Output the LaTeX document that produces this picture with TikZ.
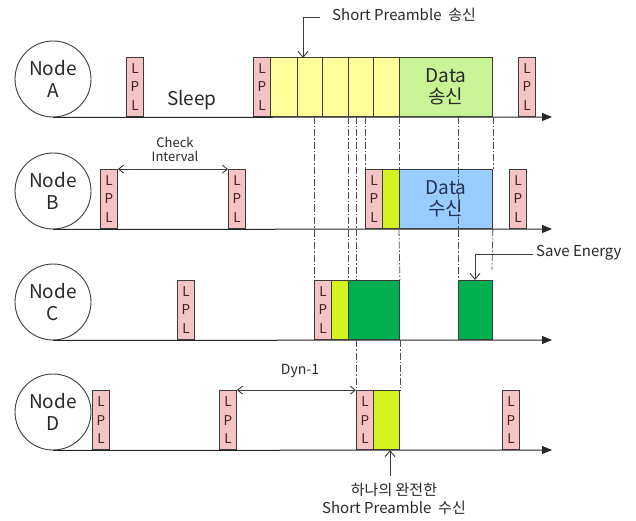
\documentclass[tikz,border=0pt]{standalone}
\usepackage{fontspec}
\setmainfont{Noto Sans CJK KR}
\usetikzlibrary{arrows.meta}
\definecolor{edge}{RGB}{60,60,60}
\definecolor{txt}{RGB}{40,40,40}
\definecolor{lplc}{RGB}{244,196,196}
\definecolor{lpltxt}{RGB}{70,30,30}
\definecolor{pre}{RGB}{255,255,153}
\definecolor{dataA}{RGB}{200,244,150}
\definecolor{dataB}{RGB}{153,204,255}
\definecolor{yg}{RGB}{212,242,30}
\definecolor{grn}{RGB}{0,176,80}
\definecolor{navy}{RGB}{35,50,85}
\definecolor{dd}{RGB}{80,80,80}
\begin{document}
\begin{tikzpicture}[x=1pt,y=-1pt,
  every node/.style={inner sep=0pt,text=txt},
  nodec/.style={circle,draw=edge,line width=0.9pt,minimum size=76pt,align=center,font=\fontsize{19}{22}\selectfont},
  lpl/.style={draw=edge,fill=lplc,line width=0.9pt,minimum width=17pt,minimum height=59pt,anchor=south west,align=center,font=\fontsize{13.5}{18.5}\selectfont,text=lpltxt},
  seg/.style n args={2}{draw=edge,fill=#2,line width=0.9pt,minimum width=#1,minimum height=59pt,anchor=south west},
  datat/.style={align=center,font=\fontsize{19}{21}\selectfont},
  axis/.style={draw=black!85,line width=1pt,-{Triangle[length=10pt,width=8pt]}},
  ddash/.style={draw=dd,line width=0.8pt,dash pattern=on 7pt off 2pt on 1.5pt off 2pt},
  callout/.style={draw=edge,line width=0.9pt,-{Straight Barb[length=6pt,width=10pt]}},
  dbl/.style={draw=edge,line width=0.9pt,{Straight Barb[length=5pt,width=8pt]}-{Straight Barb[length=5pt,width=8pt]}}]
\useasboundingbox (0,0) rectangle (636,521);

% circles
\node[nodec] (na) at (53,79) {Node\\A};
\node[nodec] (nb) at (53,191) {Node\\B};
\node[nodec] (nc) at (53,302) {Node\\C};
\node[nodec] (nd) at (53,412) {Node\\D};

% axis end points
\coordinate (ea) at (552,117);
\coordinate (eb) at (552,229);
\coordinate (ec) at (552,340);
\coordinate (ed) at (552,450);

% guide line free ends
\coordinate (g1) at (314,117);
\coordinate (g2) at (348,117);
\coordinate (g3) at (356,117);
\coordinate (g4) at (365,117);
\coordinate (g6) at (458,117);
\coordinate (g7e) at (492,270);

% axes
\draw[axis] (na.south) -- (ea);
\draw[axis] (nb.south) -- (eb);
\draw[axis] (nc.south) -- (ec);
\draw[axis] (nd.south) -- (ed);

% row A
\node[lpl] (a1) at (126,117) {L\\P\\L};
\node[lpl] (a2) at (253,117) {L\\P\\L};
\node[seg={27pt}{pre}] (ap1) at (270,117) {};
\node[seg={25pt}{pre}] (ap2) at (297,117) {};
\node[seg={26pt}{pre}] (ap3) at (322,117) {};
\node[seg={25pt}{pre}] (ap4) at (348,117) {};
\node[seg={26pt}{pre}] (ap5) at (373,117) {};
\node[seg={93pt}{dataA},datat] (ad) at (399,117) {Data\\송신};
\node[lpl] (a3) at (518,117) {L\\P\\L};
\node[font=\fontsize{19}{22}\selectfont] (sl) at (192,100) {Sleep};

% row B
\node[lpl] (b1) at (100,229) {L\\P\\L};
\node[lpl] (b2) at (228,229) {L\\P\\L};
\node[lpl] (b3) at (365,229) {L\\P\\L};
\node[seg={17pt}{yg}] (b5) at (382,229) {};
\node[seg={93pt}{dataB},datat,text=navy] (bd) at (399,229) {Data\\수신};
\node[lpl] (b4) at (509,229) {L\\P\\L};

% row C
\node[lpl] (c1) at (177,340) {L\\P\\L};
\node[lpl] (c2) at (314,340) {L\\P\\L};
\node[seg={17pt}{yg}] (c3) at (331,340) {};
\node[seg={51pt}{grn}] (c4) at (348,340) {};
\node[seg={34pt}{grn}] (c5) at (458,340) {};

% row D
\node[lpl] (d1) at (92,450) {L\\P\\L};
\node[lpl] (d2) at (219,450) {L\\P\\L};
\node[lpl] (d3) at (356,450) {L\\P\\L};
\node[seg={26pt}{yg}] (d5) at (373,450) {};
\node[lpl] (d4) at (502,450) {L\\P\\L};

% guide lines (only in the gaps between boxes)
\draw[ddash] (g1) -- (c2.north west);
\draw[ddash] (g2) -- (c4.north west);
\draw[ddash] (g3) -- (b3.south -| g3);
\draw[ddash] (b3.south -| g3) -- (g3 |- c4.north);
\draw[ddash] (c4.south -| g3) -- (d3.north west);
\draw[ddash] (g4) -- (b3.north west);
\draw[ddash] (ad.south west) -- (bd.north west);
\draw[ddash] (bd.south west) -- (c4.north east);
\draw[ddash] (c4.south east) -- (d5.north east);
\draw[ddash] (g6) -- (c5.north west);
\draw[ddash] (ad.south east) -- (bd.north east);
\draw[ddash] (bd.south east) -- (g7e);

% annotations
\node[anchor=west,font=\fontsize{15}{18}\selectfont] (sp) at (332,15) {Short Preamble~~송신};
\coordinate (sp1) at (320,17);
\coordinate (sp2) at (303,58);
\draw[callout] (sp1) -| (sp2);

\node[align=center,font=\fontsize{13}{14}\selectfont] (ci) at (175,149) {Check\\Interval};
\draw[dbl] (b1.north east) -- (b2.north west);

\node[anchor=west,font=\fontsize{15}{18}\selectfont] (se) at (536,253) {Save Energy};
\coordinate (se1) at (533,254);
\coordinate (se2) at (475,280);
\draw[callout] (se1) -| (se2);

\node[font=\fontsize{14}{16}\selectfont] (dy) at (300,371) {Dyn-1};
\draw[dbl] (d2.north east) -- (d3.north west);

\coordinate (bt1) at (390,476);
\coordinate (bt2) at (390,450);
\draw[callout] (bt1) -- (bt2);
\node[align=center,font=\fontsize{15}{18}\selectfont] (bl) at (394,499) {하나의 완전한\\Short Preamble~~수신};
\end{tikzpicture}
\end{document}
